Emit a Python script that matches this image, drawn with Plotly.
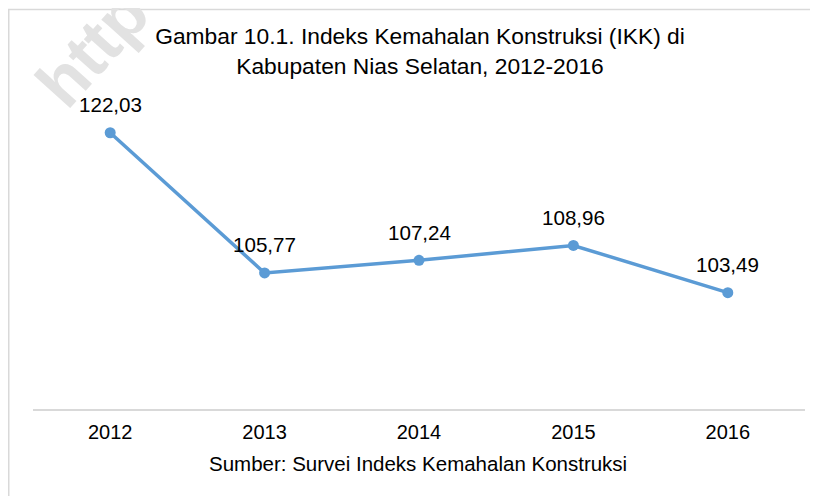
import plotly.graph_objects as go

years = ["2012", "2013", "2014", "2015", "2016"]
ikk = [122.03, 105.77, 107.24, 108.96, 103.49]
labels = [f"{v:.2f}".replace(".", ",") for v in ikk]

title_text = "Gambar 10.1. Indeks Kemahalan Konstruksi (IKK) di<br>Kabupaten Nias Selatan, 2012-2016"
source_text = "Sumber: Survei Indeks Kemahalan Konstruksi"
watermark_text = "http"

FONT = "Liberation Sans, Arial, sans-serif"
OFF = 8  # page body margin
W, H = 810, 488
ML, MR, MT, MB = 25, 13, 56, 87
PW, PH = W - ML - MR, H - MT - MB

def px(xs):
    return (xs - OFF - ML) / PW

def py(ys):
    return (H - MB - (ys - OFF)) / PH

fig = go.Figure()
fig.add_trace(go.Scatter(
    x=years, y=ikk, mode="lines+markers",
    line=dict(color="#5B9BD5", width=3.5),
    marker=dict(color="#5B9BD5", size=11),
    hoverinfo="skip", showlegend=False,
))

for i, (yv, lab) in enumerate(zip(ikk, labels)):
    fig.add_annotation(x=i, y=yv, xref="x", yref="y", text=lab, showarrow=False,
                       yshift=28, xanchor="center", yanchor="middle",
                       font=dict(family=FONT, size=20.6, color="#000000"))

fig.add_annotation(xref="paper", yref="paper", x=px(418), y=py(463),
                   text=source_text, showarrow=False,
                   xanchor="center", yanchor="middle",
                   font=dict(family=FONT, size=20.5, color="#000000"))

fig.add_annotation(xref="paper", yref="paper", x=px(92), y=py(48),
                   text="<b>" + watermark_text + "</b>", showarrow=False,
                   textangle=-48, xanchor="center", yanchor="middle",
                   font=dict(family=FONT, size=68, color="#e2e2e2"))

fig.add_shape(type="rect", xref="paper", yref="paper",
              x0=px(8.75), x1=px(840), y0=py(520), y1=py(9.5),
              line=dict(color="#d9d9d9", width=1.5), layer="below")

fig.update_layout(
    width=W, height=H,
    margin=dict(l=ML, r=MR, t=MT, b=MB),
    paper_bgcolor="white", plot_bgcolor="white",
    title=dict(text=title_text, x=(420 - OFF) / W, xanchor="center",
               y=1 - 36 / H, yanchor="middle", yref="container",
               font=dict(family=FONT, size=22.8, color="#000000")),
    xaxis=dict(type="category", range=[-0.5, 4.5], showgrid=False,
               showline=True, linecolor="#d9d9d9", linewidth=1.5,
               ticks="", tickfont=dict(family=FONT, size=20, color="#000000"),
               ticklabelstandoff=4, zeroline=False, fixedrange=True),
    yaxis=dict(range=[90, 130], showgrid=False, showline=False,
               showticklabels=False, ticks="", zeroline=False, fixedrange=True),
)

fig.write_html("out.html")
